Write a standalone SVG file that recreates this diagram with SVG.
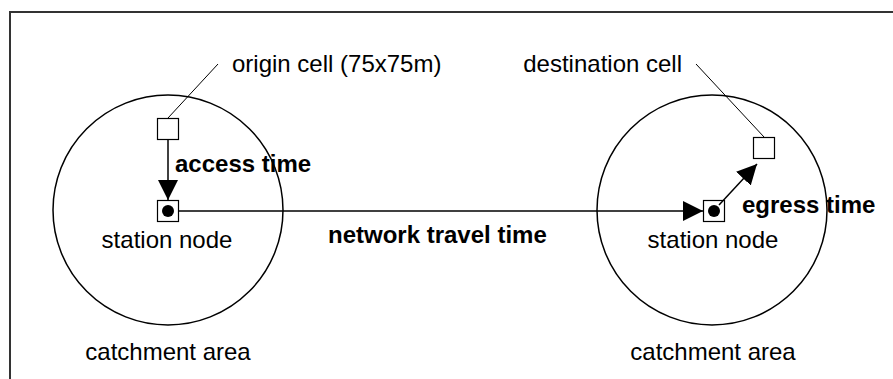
<svg xmlns="http://www.w3.org/2000/svg" width="893" height="379" viewBox="0 0 893 379">
  <defs>
    <marker id="arrow" viewBox="0 0 20 20" refX="20" refY="10" markerWidth="20" markerHeight="20" markerUnits="userSpaceOnUse" orient="auto">
      <path d="M0,0 L20,10 L0,20 Z" fill="#000"/>
    </marker>
  </defs>
  <style>
    text { font-family: "Liberation Sans", Arial, sans-serif; font-size: 24px; fill: #000; }
    .bold { font-weight: bold; }
    .mid { text-anchor: middle; }
    .area { fill: none; stroke: #000; stroke-width: 1.5; }
    .cell { fill: #fff; stroke: #000; stroke-width: 1.2; }
    .leader { stroke: #000; stroke-width: 1; fill: none; }
    .link { stroke: #000; stroke-width: 1.5; fill: none; marker-end: url(#arrow); }
  </style>
  <rect width="893" height="379" fill="#fff"/>
  <!-- outer frame, open to the right and bottom -->
  <path d="M10,379 V12 H893" fill="none" stroke="#333" stroke-width="2"/>

  <g id="left-catchment">
    <circle class="area" cx="168" cy="210" r="115"/>
    <text class="mid" x="168" y="360">catchment area</text>
  </g>
  <g id="right-catchment">
    <circle class="area" cx="712" cy="210" r="115"/>
    <text class="mid" x="713" y="360">catchment area</text>
  </g>

  <g id="origin-cell">
    <rect class="cell" x="157.5" y="118.5" width="21" height="21"/>
    <text x="232" y="72">origin cell (75x75m)</text>
  </g>
  <g id="destination-cell">
    <rect class="cell" x="753.5" y="137.5" width="21" height="21"/>
    <text x="682" y="72" text-anchor="end">destination cell</text>
  </g>
  <g id="origin-station">
    <rect class="cell" x="157.5" y="200.5" width="21" height="21"/>
    <circle cx="168" cy="211" r="6"/>
    <text class="mid" x="167" y="248">station node</text>
  </g>
  <g id="destination-station">
    <rect class="cell" x="703.5" y="200.5" width="21" height="21"/>
    <circle cx="714" cy="211" r="6"/>
    <text class="mid" x="713" y="248">station node</text>
  </g>

  <g id="connectors">
    <line class="leader" x1="168" y1="118" x2="218" y2="64"/>
    <line class="leader" x1="764" y1="137" x2="696" y2="64"/>
    <line class="link" x1="168" y1="140" x2="168" y2="200"/>
    <line class="link" x1="179" y1="211" x2="703" y2="211"/>
    <line class="link" x1="719" y1="205" x2="757" y2="164"/>
  </g>

  <g id="labels">
    <text class="bold" x="175" y="172">access time</text>
    <text class="bold" x="328" y="243">network travel time</text>
    <text class="bold" x="742" y="213">egress time</text>
  </g>
</svg>
